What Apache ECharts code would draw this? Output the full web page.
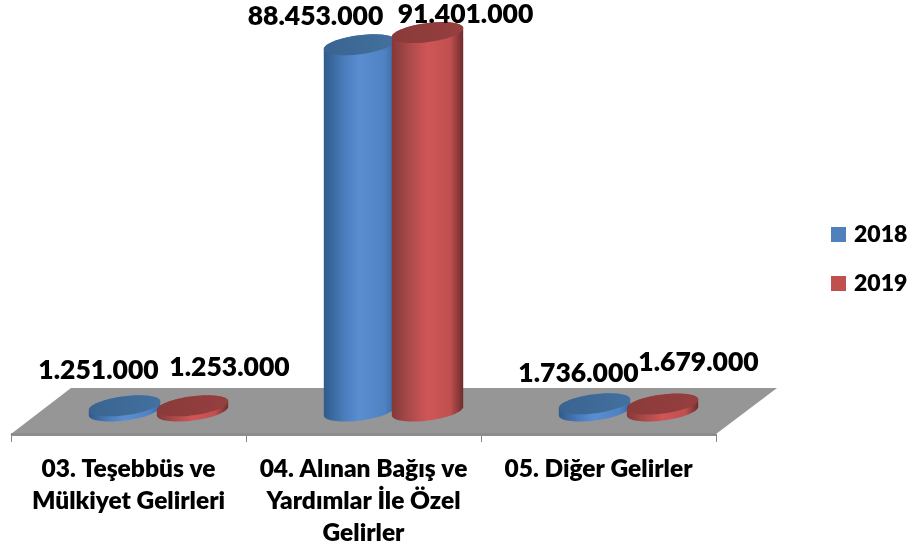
<!DOCTYPE html>
<html><head><meta charset="utf-8">
<style>html,body{margin:0;padding:0;background:#fff}#c{width:912px;height:552px}</style>
<script src="https://cdn.jsdelivr.net/npm/echarts@6/dist/echarts.min.js"></script>
</head><body><div id="c"></div>
<script>
const categories = ['03. Teşebbüs ve\nMülkiyet Gelirleri', '04. Alınan Bağış ve\nYardımlar İle Özel\nGelirler', '05. Diğer Gelirler'];
const years = ['2018', '2019'];
const values2018 = [1251000, 88453000, 1736000];
const values2019 = [1253000, 91401000, 1679000];
const labelNudge2018 = [[-26, -35], [-44, -28], [-16, -30]];
const labelNudge2019 = [[37, -38], [38, -18], [36, -42]];
const FONT = 'Lato, "Open Sans", sans-serif';
const DEPTH_X = 60, DEPTH_Y = -46, BAR_OFFSET = 34, RX = 36, RY = 9.5, TILT = -7.5 * Math.PI / 180;
const PAL = {
  '2018': {body: [[0, '#2f5a8a'], [0.28, '#4a7cbc'], [0.5, '#5a8ed2'], [0.85, '#4f82c2'], [1, '#3a6aa4']], top: ['#3a6490', '#43709f'], legend: '#4f81bd'},
  '2019': {body: [[0, '#843838'], [0.28, '#b04c4c'], [0.5, '#d05656'], [0.82, '#c04f4f'], [1, '#6e2c2c']], top: ['#8a3a3a', '#963f3f'], legend: '#c0504d'}
};
function ellipsePts(cx, cy, from, to, n) {
  const c = Math.cos(TILT), s = Math.sin(TILT), out = [];
  for (let i = 0; i <= n; i++) {
    const t = from + (to - from) * i / n;
    const ex = RX * Math.cos(t), ey = RY * Math.sin(t);
    out.push([cx + ex * c - ey * s, cy + ex * s + ey * c]);
  }
  return out;
}
function hGrad(stops) {
  return {type: 'linear', x: 0, y: 0, x2: 1, y2: 0,
    colorStops: stops.map((s, i) => Array.isArray(s) ? {offset: s[0], color: s[1]} : {offset: i / (stops.length - 1), color: s})};
}
function cylinderSeries(name, sign, values, nudges) {
  const pal = PAL[name];
  return {
    name, type: 'custom', coordinateSystem: 'cartesian2d', z: 3,
    color: pal.legend, itemStyle: {color: pal.legend},
    data: values.map((v, i) => [i, v]),
    encode: {x: 0, y: 1},
    renderItem(params, api) {
      const i = api.value(0), v = api.value(1);
      const base = api.coord([i, 0]), top = api.coord([i, v]);
      const cx = base[0] + DEPTH_X / 2 + sign * BAR_OFFSET;
      const by = base[1] + DEPTH_Y / 2 , ty = top[1] + DEPTH_Y / 2;
      const t0 = Math.atan2(-RY * Math.sin(TILT), RX * Math.cos(TILT));
      const lower = ellipsePts(cx, by, t0, t0 + Math.PI, 40);
      const upper = ellipsePts(cx, ty, t0 + Math.PI, t0 + 2 * Math.PI, 40);
      const n = nudges[i];
      return {type: 'group', children: [
        {type: 'polygon', shape: {points: lower.concat(upper)}, style: {fill: hGrad(pal.body)}},
        {type: 'polygon', shape: {points: ellipsePts(cx, ty, 0, 2 * Math.PI, 72)}, style: {fill: hGrad(pal.top)}},
        {type: 'text', z2: 50, style: {
          text: String(v).replace(/\B(?=(\d{3})+$)/g, '.'),
          x: cx + n[0], y: ty + n[1], align: 'center', verticalAlign: 'middle',
          font: '800 26.5px ' + FONT, fill: '#000'
        }}
      ]};
    }
  };
}
const floorSeries = {
  type: 'custom', coordinateSystem: 'cartesian2d', z: 1, silent: true,
  data: [[0, 0]], encode: {x: 0, y: 1},
  renderItem(params, api) {
    const cs = params.coordSys;
    const l = cs.x, r = cs.x + cs.width, b = cs.y + cs.height;
    return {type: 'group', children: [
      {type: 'polygon', shape: {points: [[l, b], [r, b], [r + DEPTH_X + 1, b + DEPTH_Y], [l + DEPTH_X, b + DEPTH_Y]]},
       style: {fill: '#969696'}},
      {type: 'rect', shape: {x: l, y: b - 1, width: r - l, height: 3}, style: {fill: '#8c8c8c'}}
    ]};
  }
};
const chart = echarts.init(document.getElementById('c'), null, {renderer: 'canvas'});
chart.setOption({
  animation: false,
  backgroundColor: '#fff',
  grid: {left: 11, right: 196, top: 20, bottom: 118},
  legend: {
    data: years.map(name => ({name, icon: 'rect'})), orient: 'vertical', left: 826, top: 218,
    itemWidth: 15, itemHeight: 15, itemGap: 26, selectedMode: false,
    textStyle: {fontFamily: FONT, fontWeight: 800, fontSize: 23, color: '#000', padding: [0, 0, 0, 3]}
  },
  xAxis: {
    type: 'category', data: categories,
    axisLine: {show: true, lineStyle: {color: '#a6a6a6', width: 1}},
    axisTick: {show: true, length: 8, lineStyle: {color: '#868686', width: 1}},
    axisLabel: {fontFamily: FONT, fontWeight: 800, fontSize: 24.5, color: '#000', lineHeight: 32, margin: 19, interval: 0}
  },
  yAxis: {type: 'value', min: 0, max: 100000000, show: false, splitLine: {show: false}},
  series: [floorSeries, cylinderSeries(years[0], -1, values2018, labelNudge2018), cylinderSeries(years[1], 1, values2019, labelNudge2019)]
});
</script></body></html>
